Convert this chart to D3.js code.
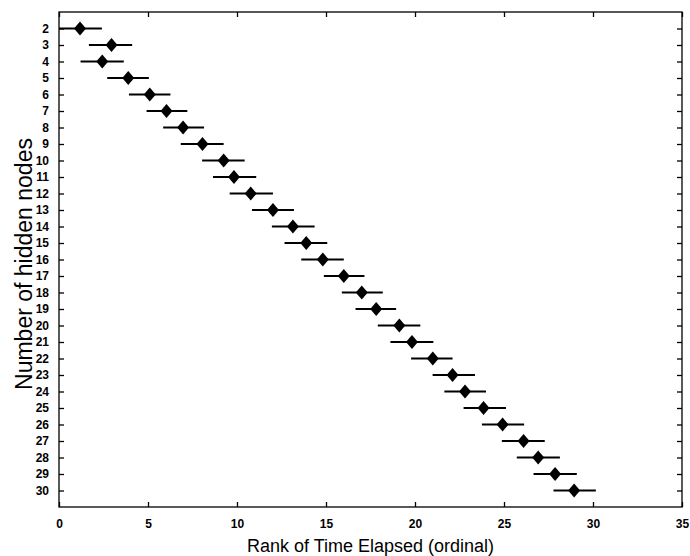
<!DOCTYPE html>
<html>
<head>
<meta charset="utf-8">
<script src="https://cdn.jsdelivr.net/npm/d3@7/dist/d3.min.js"></script>
<style>
  html, body { margin: 0; padding: 0; background: #fff; }
  svg { display: block; }
  text { font-family: "Liberation Sans", Arial, Helvetica, sans-serif; fill: #000; }
</style>
</head>
<body>
<svg id="chart" width="690" height="556"></svg>
<script>
// Categories: number of hidden nodes
const hiddenNodes = [2,3,4,5,6,7,8,9,10,11,12,13,14,15,16,17,18,19,20,21,22,23,24,25,26,27,28,29,30];
// Mean rank of time elapsed
const meanRank = [1.18,2.95,2.43,3.89,5.10,6.04,6.97,8.06,9.25,9.83,10.77,12.02,13.14,13.89,14.82,16.00,17.01,17.82,19.12,19.83,21.00,22.11,22.81,23.85,24.92,26.10,26.92,27.87,28.94];
// Interval lower / upper bounds
const lowerRank = [0.00,1.68,1.21,2.71,3.93,4.92,5.85,6.84,8.04,8.65,9.59,10.84,11.96,12.67,13.61,14.88,15.89,16.66,17.91,18.62,19.78,20.99,21.65,22.73,23.76,24.88,25.72,26.66,27.78];
const upperRank = [2.41,4.11,3.64,5.05,6.26,7.21,8.15,9.25,10.43,11.08,12.02,13.20,14.36,15.07,16.00,17.16,18.19,18.94,20.30,21.03,22.11,23.37,23.99,25.11,26.13,27.29,28.14,29.09,30.16];
const xTicks = [0,5,10,15,20,25,30,35];

const svg = d3.select("#chart");
const L = 59, R = 682, T = 12, B = 507;

const x = d3.scaleLinear().domain([0, 35]).range([L, R]);
const y = d3.scaleLinear().domain([1, 31]).range([T, B]);

// frame
svg.append("rect").attr("x", L).attr("y", T).attr("width", R - L).attr("height", B - T)
  .attr("fill", "none").attr("stroke", "#000").attr("stroke-width", 1.3);

const tickLen = 5;
// bottom axis
const xb = svg.append("g").attr("transform", `translate(0,${B})`)
  .call(d3.axisBottom(x).tickValues(xTicks).tickSizeInner(-tickLen).tickSizeOuter(0).tickPadding(12));
// top axis ticks
const xt = svg.append("g").attr("transform", `translate(0,${T})`)
  .call(d3.axisTop(x).tickValues(xTicks).tickSizeInner(-tickLen).tickSizeOuter(0).tickFormat(""));
// left axis
const yl = svg.append("g").attr("transform", `translate(${L},0)`)
  .call(d3.axisLeft(y).tickValues(hiddenNodes).tickSizeInner(-tickLen).tickSizeOuter(0).tickPadding(10));
// right axis ticks
const yr = svg.append("g").attr("transform", `translate(${R},0)`)
  .call(d3.axisRight(y).tickValues(hiddenNodes).tickSizeInner(-tickLen).tickSizeOuter(0).tickFormat(""));

[xb, xt, yl, yr].forEach(g => {
  g.select(".domain").remove();
  g.selectAll(".tick line").attr("stroke", "#000").attr("stroke-width", 1.3);
  g.selectAll("text").attr("font-size", 12).attr("font-weight", "bold")
    .attr("font-family", "'Liberation Sans', Arial, sans-serif").attr("fill", "#000");
});

// error bars
svg.append("g").selectAll("line").data(hiddenNodes).join("line")
  .attr("x1", (d, i) => x(lowerRank[i]))
  .attr("x2", (d, i) => x(upperRank[i]))
  .attr("y1", d => y(d)).attr("y2", d => y(d))
  .attr("stroke", "#000").attr("stroke-width", 2.2);

// diamonds
const hw = 6, hh = 7;
svg.append("g").selectAll("path").data(hiddenNodes).join("path")
  .attr("transform", (d, i) => `translate(${x(meanRank[i])},${y(d)})`)
  .attr("d", `M0,${-hh}L${hw},0L0,${hh}L${-hw},0Z`)
  .attr("fill", "#000");

// axis titles
svg.append("text").attr("x", (L + R) / 2).attr("y", 552)
  .attr("text-anchor", "middle").attr("font-size", 18)
  .text("Rank of Time Elapsed (ordinal)");
svg.append("text").attr("transform", `translate(32,264) rotate(-90)`)
  .attr("text-anchor", "middle").attr("font-size", 23)
  .text("Number of hidden nodes");
</script>
</body>
</html>
